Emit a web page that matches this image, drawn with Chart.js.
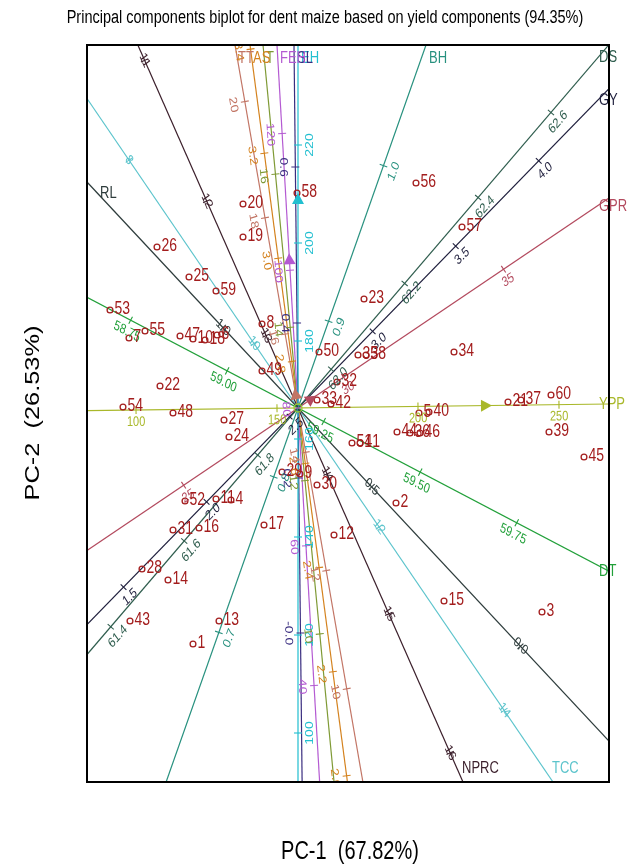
<!DOCTYPE html>
<html lang="en">
<head>
    <meta charset="UTF-8">
    <title>Principal components biplot for dent maize</title>
    <script src="https://cdn.jsdelivr.net/npm/chart.js"></script>
    <style>
        body { margin: 0; background: #fff; }
        #wrap { width: 630px; height: 867px; }
    </style>
</head>
<body>
<div id="wrap"><canvas id="biplot" width="630" height="867"></canvas></div>
<script>
    // genotype scores (PC-1, PC-2)
    const genotypes = ['1','2','3','4','5','6','7','8','9','10','11','12','13','14','15','16','17','18','19','20',
        '21','22','23','24','25','26','27','28','29','30','31','32','33','34','35','36','37','38','39','40',
        '41','42','43','44','45','46','47','48','49','50','51','52','53','54','55','56','57','58','59','60'];
    const pc1 = [-1.05, 0.98, 2.44, -0.67, 1.21, -0.81, -1.69, -0.36, 0.02, -1.05,
        -0.82, 0.36, -0.79, -1.30, 1.46, -0.99, -0.34, -0.93, -0.55, -0.55,
        2.10, -1.38, 0.66, -0.69, -1.09, -1.41, -0.74, -1.56, -0.16, 0.19,
        -1.25, 0.39, 0.19, 1.56, 0.60, 1.12, 2.23, 0.68, 2.51, 1.31,
        0.62, 0.33, -1.68, 0.99, 2.86, 1.22, -1.18, -1.25, -0.36, 0.21,
        0.54, -1.13, -1.88, -1.75, -1.53, 1.18, 1.64, -0.01, -0.82, 2.53];
    const pc2 = [-2.36, -0.95, -2.04, -0.92, -0.05, 0.73, 0.70, 0.84, -0.66, 0.69,
        -0.91, -1.27, -2.13, -1.72, -1.93, -1.20, -1.17, 0.68, 1.71, 2.04,
        0.06, 0.22, 1.09, -0.29, 1.31, 1.61, -0.12, -1.61, -0.64, -0.77,
        -1.22, 0.26, 0.08, 0.56, 0.53, -0.25, 0.08, 0.53, -0.24, -0.04,
        -0.35, 0.04, -2.13, -0.24, -0.49, -0.25, 0.72, -0.05, 0.37, 0.56,
        -0.35, -0.93, 0.98, 0.01, 0.77, 2.25, 1.81, 2.15, 1.17, 0.13];

    // trait vectors: point where each axis leaves the plot on its label side
    const traits = ['BH', 'DS', 'GY', 'GPR', 'YPP', 'DT', 'RL', 'NPRC', 'TCC', 'EH', 'SL', 'FEH', 'T', 'AS', 'TT'];
    const traitPC1 = [1.28, 3.09, 3.02, 3.08, 3.11, 3.07, -2.11, 1.65, 2.55, 0.00, -0.04, -0.21, -0.35, -0.48, -0.63];
    const traitPC2 = [3.63, 3.61, 3.10, 2.08, 0.04, -1.61, 2.26, -3.74, -3.74, 3.63, 3.63, 3.63, 3.63, 3.63, 3.63];

    // calibration marks on each trait axis: label and distance from the origin
    const traitTickLabels = [
        ['0.7', '0.8', '0.9', '1.0'],
        ['61.4', '61.6', '61.8', '62.0', '62.2', '62.4', '62.6'],
        ['1.5', '2.0', '2.5', '3.0', '3.5', '4.0'],
        ['25', '30', '35'],
        ['100', '150', '200', '250'],
        ['58.75', '59.00', '59.25', '59.50', '59.75'],
        ['0.0', '0.5', '1.0'],
        ['11', '12', '13', '14', '15', '16'],
        ['8', '10', '12', '14'],
        ['100', '120', '140', '160', '180', '200', '220'],
        ['-0.0', '0.2', '0.4', '0.6'],
        ['40', '60', '80', '100', '120'],
        ['10', '12', '14', '16'],
        ['2.0', '2.2', '2.4', '2.6', '2.8', '3.0', '3.2', '3.4'],
        ['10', '12', '14', '16', '18', '20']
    ];
    const traitTickPos = [
        [-2.38, -0.73, 0.92, 2.57],
        [-2.88, -1.75, -0.62, 0.51, 1.64, 2.77, 3.89],
        [-2.50, -1.31, -0.12, 1.07, 2.26, 3.45],
        [-1.38, 0.55, 2.48],
        [-1.62, -0.21, 1.20, 2.61],
        [-1.89, -0.80, 0.29, 1.38, 2.47],
        [-3.26, -1.08, 1.10],
        [-3.80, -2.26, -0.79, 0.72, 2.25, 3.77],
        [-3.00, -0.78, 1.44, 3.66],
        [-3.25, -2.27, -1.29, -0.31, 0.67, 1.65, 2.63],
        [-2.25, -0.70, 0.85, 2.41],
        [-2.78, -1.38, 0.00, 1.38, 2.75],
        [-2.27, -0.73, 0.81, 2.35],
        [-3.71, -2.66, -1.61, -0.56, 0.47, 1.51, 2.57, 3.62],
        [-2.85, -1.65, -0.45, 0.75, 1.93, 3.11]
    ];

    // arrow heads on some axes (tip distance from origin)
    const arrowTraits = ['YPP', 'FEH', 'EH', 'GPR', 'TT'];
    const arrowDist = [1.94, 1.55, 2.15, 0.22, 0.20];

    const xMin = -2.11, xMax = 3.11, yMin = -3.74, yMax = 3.63;

    // styling
    const STRETCH = 1.27;
    const FONT = '"Liberation Sans", Arial, sans-serif';
    const genoColor = '#a31d1d';
    const traitColors = {
        BH: '#28917f', DS: '#2f5d4e', GY: '#1e1e3c', GPR: '#b34a5e', YPP: '#a9b82a',
        DT: '#22a03a', RL: '#2d3b3b', NPRC: '#3b1f2b', TCC: '#5cc4cc', EH: '#22bfd0',
        SL: '#3a2e80', FEH: '#b45ad2', T: '#7f9a35', AS: '#d4821e', TT: '#c27565'
    };
    const onLineTicks = ['RL', 'NPRC', 'TCC'];

    function axisGeom(ex, ey) {
        const len = Math.hypot(ex, ey), ux = ex / len, uy = ey / len;
        const lim = (u, lo, hi) => u > 1e-9 ? [hi / u, -lo / u] : (u < -1e-9 ? [lo / u, -hi / u] : [Infinity, Infinity]);
        const [tpx, tnx] = lim(ux, xMin, xMax);
        const [tpy, tny] = lim(uy, yMin, yMax);
        return { ux, uy, tPos: Math.min(tpx, tpy), tNeg: Math.min(tnx, tny) };
    }

    function textAngle(sx, sy) {
        if (Math.abs(sx) < 1e-6) return -Math.PI / 2;
        return Math.atan((sy / STRETCH) / sx);
    }

    function drawText(ctx, str, x, y, angle, font, color, align, baseline, maxW) {
        ctx.save();
        ctx.translate(x, y);
        ctx.scale(1, STRETCH);
        ctx.rotate(angle);
        ctx.font = font;
        ctx.fillStyle = color;
        ctx.textAlign = align;
        ctx.textBaseline = baseline;
        if (maxW) ctx.fillText(str, 0, 0, maxW); else ctx.fillText(str, 0, 0);
        ctx.restore();
    }

    const traitDatasets = traits.map((name, i) => {
        const g = axisGeom(traitPC1[i], traitPC2[i]);
        return {
            data: [{ x: g.ux * g.tPos, y: g.uy * g.tPos }, { x: -g.ux * g.tNeg, y: -g.uy * g.tNeg }],
            showLine: true,
            borderColor: traitColors[name],
            borderWidth: 1.2,
            pointRadius: 0
        };
    });

    const biplotDecor = {
        id: 'biplotDecor',
        afterDatasetsDraw(chart) {
            const ctx = chart.ctx, sx = chart.scales.x, sy = chart.scales.y, a = chart.chartArea;
            ctx.save();
            ctx.beginPath();
            ctx.rect(a.left, a.top, a.right - a.left, a.bottom - a.top);
            ctx.clip();

            // calibration ticks and their labels
            traits.forEach((name, i) => {
                const g = axisGeom(traitPC1[i], traitPC2[i]);
                const col = traitColors[name];
                const dx = g.ux, dy = -g.uy;
                const th = textAngle(dx, dy);
                let nx = -Math.sin(th), ny = STRETCH * Math.cos(th);
                const nl = Math.hypot(nx, ny);
                nx /= nl; ny /= nl;
                const off = onLineTicks.includes(name) ? 0 : 12;
                traitTickPos[i].forEach((d, k) => {
                    const px = sx.getPixelForValue(d * g.ux), py = sy.getPixelForValue(d * g.uy);
                    ctx.strokeStyle = col;
                    ctx.lineWidth = 1.1;
                    ctx.beginPath();
                    ctx.moveTo(px + dy * 4, py - dx * 4);
                    ctx.lineTo(px - dy * 4, py + dx * 4);
                    ctx.stroke();
                    drawText(ctx, traitTickLabels[i][k], px + nx * off, py + ny * off, th,
                        '11px ' + FONT, col, 'center', 'middle');
                });
            });

            // arrow heads
            arrowTraits.forEach((name, k) => {
                const i = traits.indexOf(name);
                const g = axisGeom(traitPC1[i], traitPC2[i]);
                const tx = sx.getPixelForValue(arrowDist[k] * g.ux), ty = sy.getPixelForValue(arrowDist[k] * g.uy);
                const dx = g.ux, dy = -g.uy;
                const L = 11, W = 6;
                ctx.fillStyle = traitColors[name];
                ctx.beginPath();
                ctx.moveTo(tx, ty);
                ctx.lineTo(tx - dx * L - dy * W, ty - dy * L + dx * W);
                ctx.lineTo(tx - dx * L + dy * W, ty - dy * L - dx * W);
                ctx.closePath();
                ctx.fill();
            });

            // origin marker
            ctx.strokeStyle = '#9acd32';
            ctx.lineWidth = 1.3;
            ctx.beginPath();
            ctx.arc(sx.getPixelForValue(0), sy.getPixelForValue(0), 4, 0, Math.PI * 2);
            ctx.stroke();
            ctx.restore();

            // trait names at the ends of the axes
            traits.forEach((name, i) => {
                const g = axisGeom(traitPC1[i], traitPC2[i]);
                const ex = sx.getPixelForValue(g.ux * g.tPos), ey = sy.getPixelForValue(g.uy * g.tPos);
                let lx, ly;
                if (ex >= a.right - 4) { lx = a.right - 10; ly = ey + Math.max(0, g.uy) * 16; }
                else if (ey <= a.top + 1) { lx = ex + 3; ly = ey + 13; }
                else if (ey >= a.bottom - 1) { lx = ex - 1; ly = ey - 14; }
                else { lx = ex + 13; ly = ey + 11; }
                drawText(ctx, name, lx, ly, 0, '13px ' + FONT, traitColors[name], 'left', 'middle');
            });

            // genotype numbers
            genotypes.forEach((gname, i) => {
                const px = sx.getPixelForValue(pc1[i]), py = sy.getPixelForValue(pc2[i]);
                drawText(ctx, gname, px + 4.5, py - 1, 0, '14px ' + FONT, genoColor, 'left', 'middle');
            });
        },
        afterDraw(chart) {
            const ctx = chart.ctx, a = chart.chartArea;
            ctx.save();
            ctx.strokeStyle = '#000';
            ctx.lineWidth = 2;
            ctx.strokeRect(a.left, a.top, a.right - a.left, a.bottom - a.top);
            ctx.restore();
            drawText(ctx, 'Principal components biplot for dent maize based on yield components (94.35%)',
                325, 18, 0, '14.5px ' + FONT, '#000', 'center', 'middle', 525);
            drawText(ctx, 'PC-1  (67.82%)', 350, 852, 0, '20px ' + FONT, '#000', 'center', 'middle');
            drawText(ctx, 'PC-2  (26.53%)', 33, 413, -Math.PI / 2, '20px ' + FONT, '#000', 'center', 'middle');
        }
    };

    const genoDataset = {
        data: pc1.map((x, i) => ({ x: x, y: pc2[i] })),
        pointRadius: 2.9,
        pointBorderWidth: 1.3,
        pointBorderColor: genoColor,
        pointBackgroundColor: 'rgba(0,0,0,0)',
        showLine: false
    };

    new Chart(document.getElementById('biplot'), {
        type: 'scatter',
        data: { datasets: [genoDataset].concat(traitDatasets) },
        options: {
            responsive: false,
            animation: false,
            devicePixelRatio: 1,
            layout: { padding: { left: 87, top: 45, right: 21, bottom: 85 } },
            scales: {
                x: { type: 'linear', min: xMin, max: xMax, display: false },
                y: { type: 'linear', min: yMin, max: yMax, display: false }
            },
            plugins: { legend: { display: false }, tooltip: { enabled: false } }
        },
        plugins: [biplotDecor]
    });
</script>
</body>
</html>
